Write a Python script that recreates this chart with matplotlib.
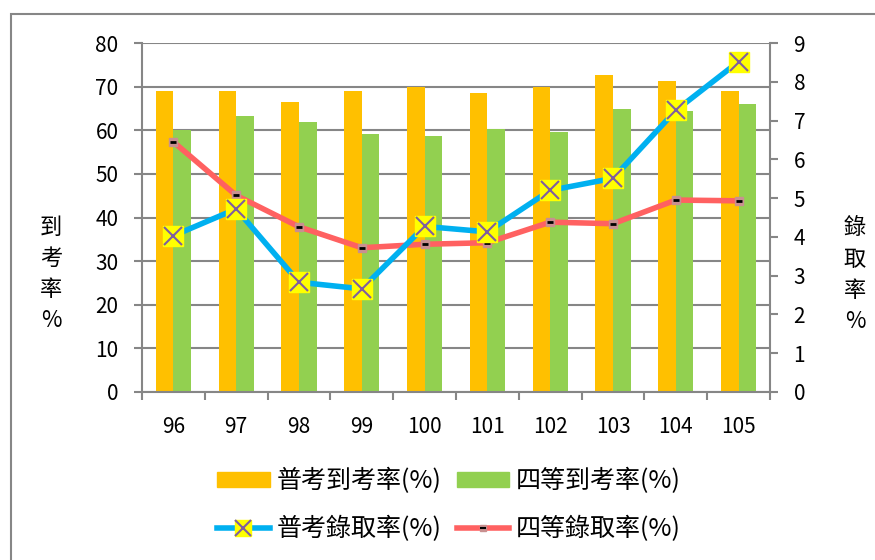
import numpy as np
import matplotlib
matplotlib.use("Agg")
import matplotlib.pyplot as plt
from matplotlib.lines import Line2D
from matplotlib.patches import Patch, Rectangle

plt.rcParams['font.family'] = ['Noto Sans CJK TC', 'DejaVu Sans']

# 資料
years = ['96', '97', '98', '99', '100', '101', '102', '103', '104', '105']
pu_attend = [69.1, 68.9, 66.4, 69.1, 69.8, 68.5, 69.8, 72.7, 71.3, 68.9]
si_attend = [60.0, 63.2, 62.0, 59.2, 58.6, 60.3, 59.7, 64.8, 64.4, 66.0]
pu_admit = [4.03, 4.72, 2.83, 2.66, 4.27, 4.13, 5.20, 5.51, 7.26, 8.52]
si_admit = [6.45, 5.07, 4.26, 3.72, 3.81, 3.85, 4.38, 4.34, 4.95, 4.93]

gray = '#868686'
orange = '#FFC000'
green = '#92D050'
blue = '#00B0F0'
red = '#FF6161'

fig = plt.figure(figsize=(8.75, 5.6), dpi=100)
# 外框
fig.patches.append(Rectangle((11/875, -0.1), 1.0, 1 - 14/560 + 0.1,
                             transform=fig.transFigure, fill=False,
                             edgecolor=gray, linewidth=1.5))

ax = fig.add_axes([142/875, 1 - 392/560, 628/875, 349/560])
x = np.arange(len(years))
w = 0.28
ax.bar(x - w/2, pu_attend, w, color=orange, zorder=2)
ax.bar(x + w/2, si_attend, w, color=green, zorder=2)
ax.set_xlim(-0.5, len(years) - 0.5)
ax.set_ylim(0, 80)
ax.set_yticks(range(0, 81, 10))
ax.yaxis.grid(True, color=gray, linewidth=1.5)
ax.set_axisbelow(True)
ax.set_xticks(x)
ax.set_xticklabels(years, fontsize=15)
ax.set_xticks(np.arange(-0.5, len(years)), minor=True)
ax.tick_params(axis='x', which='major', length=0, pad=17)
ax.tick_params(axis='x', which='minor', length=6, width=1.5, color=gray)
ax.tick_params(axis='y', length=6, width=1.5, color=gray, labelsize=15, pad=11)
for s in ['top', 'right']:
    ax.spines[s].set_visible(False)
for s in ['left', 'bottom']:
    ax.spines[s].set_color(gray)
    ax.spines[s].set_linewidth(1.5)

ax2 = ax.twinx()
ax2.set_ylim(0, 9)
ax2.set_yticks(range(0, 10))
ax2.tick_params(axis='y', length=6, width=1.5, color=gray, labelsize=15, pad=11)
for s in ['top', 'left', 'bottom']:
    ax2.spines[s].set_visible(False)
ax2.spines['right'].set_color(gray)
ax2.spines['right'].set_linewidth(1.5)

ax2.plot(x, si_admit, color=red, linewidth=4, marker='s', markersize=6,
         markerfacecolor='#C89090', markeredgecolor='#C89090', zorder=3)
ax2.plot(x, si_admit, linestyle='none', marker='_', markersize=5,
         markeredgecolor='black', markeredgewidth=2, zorder=4)
ax2.plot(x, pu_admit, color=blue, linewidth=4, marker='s', markersize=14,
         markerfacecolor='#FFFF00', markeredgecolor='#FFFF00', zorder=5)
ax2.plot(x, pu_admit, linestyle='none', marker='x', markersize=13,
         markeredgecolor='#7F5F9F', markeredgewidth=1.5, zorder=6)

fig.text(51/875, 1 - 274/560, '到\n考\n率\n%', ha='center', va='center',
         fontsize=16, linespacing=1.45)
fig.text(855/875, 1 - 275/560, '錄\n取\n率\n%', ha='center', va='center',
         fontsize=16, linespacing=1.45)

h1 = Patch(color=orange)
h2 = Patch(color=green)
h3 = (Line2D([], [], color=blue, linewidth=4),
      Line2D([], [], linestyle='none', marker='s', markersize=12,
             markerfacecolor='#FFFF00', markeredgecolor='#FFFF00'),
      Line2D([], [], linestyle='none', marker='x', markersize=11,
             markeredgecolor='#7F5F9F', markeredgewidth=1.5))
h4 = (Line2D([], [], color=red, linewidth=4),
      Line2D([], [], linestyle='none', marker='s', markersize=5,
             markerfacecolor='#C89090', markeredgecolor='#C89090'),
      Line2D([], [], linestyle='none', marker='_', markersize=4,
             markeredgecolor='black', markeredgewidth=1.5))
fig.legend([h1, h3, h2, h4],
           ['普考到考率(%)', '普考錄取率(%)', '四等到考率(%)', '四等錄取率(%)'],
           ncol=2, loc='center', bbox_to_anchor=(449/875, 1 - 505/560),
           frameon=False, fontsize=18, handlelength=2.1, handleheight=0.55,
           columnspacing=0.6, handletextpad=0.28, labelspacing=0.85)

fig.savefig('out.png', dpi=100)
